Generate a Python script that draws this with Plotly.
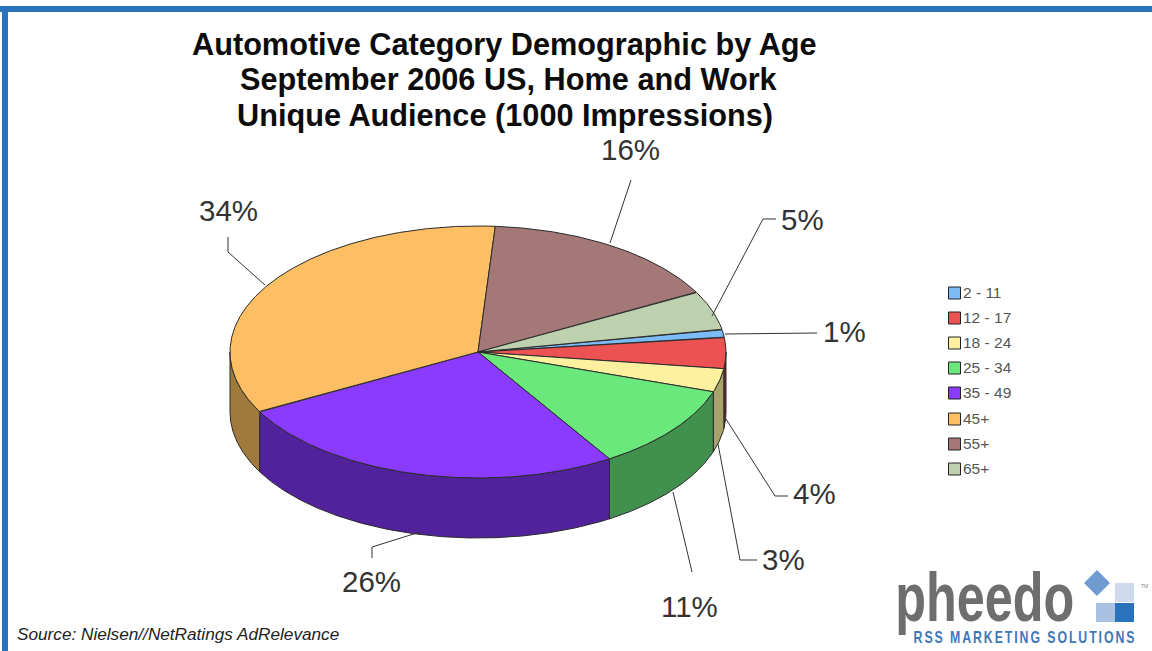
import math
import plotly.graph_objects as go

# ---- data ----
categories = ["2 - 11", "12 - 17", "18 - 24", "25 - 34", "35 - 49", "45+", "55+", "65+"]
percent = [1, 4, 3, 11, 26, 34, 16, 5]
top_colors = ["#7DBBF7", "#EC5252", "#FDF09F", "#6BE87C", "#8A3BFF", "#FDBE64", "#A57878", "#BDD1AF"]
side_colors = ["#3F6F95", "#7E1F28", "#A8A26C", "#42904E", "#52229C", "#A07A3C", "#634848", "#717D69"]
title_lines = ["Automotive Category Demographic by Age",
               "September 2006 US, Home and Work",
               "Unique Audience (1000 Impressions)"]
source_text = "Source: Nielsen//NetRatings AdRelevance"

# ---- layout of the pie (pixels of the 1152x651 canvas) ----
W, H = 1152, 651
CX, CY, RX, RY, DEPTH = 478, 352, 248, 126, 60
START_DEG = 10.4
OUTLINE = "#2b2b2b"


def pt(deg, drop=0):
    r = math.radians(deg)
    return CX + RX * math.cos(r), CY - RY * math.sin(r) + drop


def arc(a, b):
    """Angles from a down to b (clockwise), one point per quarter degree."""
    n = max(2, int(abs(a - b) * 4))
    return [a + (b - a) * i / n for i in range(n + 1)]


fig = go.Figure()

# slice spans from the percentages
spans = []
cur = START_DEG
for v in percent:
    spans.append((cur, cur - v * 3.6))
    cur -= v * 3.6

# side walls (only the front half of the rim is visible), back to front
order = sorted(range(len(percent)), key=lambda i: abs((spans[i][0] + spans[i][1]) / 2 + 90), reverse=True)
for i in order:
    a, b = spans[i]
    a2, b2 = min(a, 0), max(b, -180)
    if a2 <= b2:
        continue
    ts = arc(a2, b2)
    upper = [pt(t) for t in ts]
    lower = [pt(t, DEPTH) for t in reversed(ts)]
    poly = upper + lower + [upper[0]]
    fig.add_trace(go.Scatter(x=[p[0] for p in poly], y=[p[1] for p in poly], mode="lines",
                             fill="toself", fillcolor=side_colors[i],
                             line=dict(color=OUTLINE, width=1), name=categories[i] + " side",
                             showlegend=False, hoverinfo="skip"))

# top faces
for i, (a, b) in enumerate(spans):
    rim = [pt(t) for t in arc(a, b)]
    poly = [(CX, CY)] + rim + [(CX, CY)]
    fig.add_trace(go.Scatter(x=[p[0] for p in poly], y=[p[1] for p in poly], mode="lines",
                             fill="toself", fillcolor=top_colors[i],
                             line=dict(color=OUTLINE, width=1), name=categories[i],
                             showlegend=False, hoverinfo="name"))

shapes = []
annotations = []

# frame
FRAME = "#2A72BC"
shapes.append(dict(type="rect", xref="x", yref="y", x0=0, x1=W, y0=6, y1=12, fillcolor=FRAME, line_width=0))
shapes.append(dict(type="rect", xref="x", yref="y", x0=2, x1=8, y0=6, y1=H, fillcolor=FRAME, line_width=0))

# title
for line, x, y in zip(title_lines, [504, 509, 505], [44, 79, 115]):
    annotations.append(dict(x=x, y=y, xref="x", yref="y", text=f"<b>{line}</b>", showarrow=False,
                            xanchor="center", yanchor="middle",
                            font=dict(family="Liberation Sans", size=30.7, color="#0c0c0c")))

# leader lines and percent labels (same order as categories)
leaders = [
    [(725, 334), (817, 333)],
    [(726, 419), (775, 496), (788, 496)],
    [(718, 444), (740, 560), (757, 560)],
    [(673, 492), (692, 572)],
    [(420, 532), (372, 547), (372, 558)],
    [(265, 285), (228, 252), (228, 237)],
    [(610, 243), (631, 180)],
    [(712, 316), (763, 219), (776, 219)],
]
label_pos = [(844, 331), (814, 493), (783, 559), (689, 606), (371, 581), (228, 210), (630, 149), (802, 219)]
for i, v in enumerate(percent):
    xs, ys = zip(*leaders[i])
    fig.add_trace(go.Scatter(x=xs, y=ys, mode="lines", line=dict(color="#333333", width=1),
                             showlegend=False, hoverinfo="skip"))
    annotations.append(dict(x=label_pos[i][0], y=label_pos[i][1], xref="x", yref="y", text=f"{v}%",
                            showarrow=False, xanchor="center", yanchor="middle",
                            font=dict(family="Liberation Sans", size=29.5, color="#333333")))

# legend
legend_y = [293, 318, 343, 368, 393, 419, 444, 469]
for i, name in enumerate(categories):
    y = legend_y[i]
    shapes.append(dict(type="rect", xref="x", yref="y", x0=948.5, x1=960.5, y0=y - 6, y1=y + 6,
                       fillcolor=top_colors[i], line=dict(color="#222222", width=1)))
    annotations.append(dict(x=961, y=y - 1, xref="x", yref="y", text=name, showarrow=False,
                            xanchor="left", yanchor="middle",
                            font=dict(family="Liberation Sans", size=15.5, color="#555555")))

# source
annotations.append(dict(x=15, y=634, xref="x", yref="y", text=f"<i>{source_text}</i>", showarrow=False,
                        xanchor="left", yanchor="middle",
                        font=dict(family="Liberation Sans", size=17.2, color="#222222")))

# logo
annotations.append(dict(x=984, y=597, xref="x", yref="y", text="<b>pheedo</b>", showarrow=False,
                        xanchor="center", yanchor="middle",
                        font=dict(family="Liberation Sans", size=69, color="#6E6E6E")))
annotations.append(dict(x=1024.5, y=637, xref="x", yref="y", text="<b>RSS MARKETING SOLUTIONS</b>", showarrow=False,
                        xanchor="center", yanchor="middle",
                        font=dict(family="Liberation Sans", size=16, color="#3F78B8")))
annotations.append(dict(x=1144, y=586, xref="x", yref="y", text="TM", showarrow=False,
                        font=dict(family="Liberation Sans", size=5, color="#888888")))
shapes += [
    dict(type="path", xref="x", yref="y", path="M 1097 570 L 1110 583 L 1097 596 L 1084 583 Z",
         fillcolor="#6F9BD0", line_width=0),
    dict(type="rect", xref="x", yref="y", x0=1115, x1=1134, y0=583, y1=602, fillcolor="#CFDAEC", line_width=0),
    dict(type="rect", xref="x", yref="y", x0=1096, x1=1115, y0=603, y1=622, fillcolor="#A9C2E2", line_width=0),
    dict(type="rect", xref="x", yref="y", x0=1115, x1=1134, y0=603, y1=622, fillcolor="#2A72BC", line_width=0),
]

fig.update_layout(
    width=W, height=H, margin=dict(l=0, r=0, t=0, b=0),
    paper_bgcolor="white", plot_bgcolor="white", showlegend=False,
    xaxis=dict(range=[0, W], visible=False, fixedrange=True),
    yaxis=dict(range=[H, 0], visible=False, fixedrange=True),
    shapes=shapes, annotations=annotations,
)

# remove page margin; squeeze the two logo texts to their condensed widths
post = """
document.body.style.margin = '0';
function squeeze(label, width, spacing) {
  document.querySelectorAll('.annotation-text').forEach(function (t) {
    if (t.textContent !== label) return;
    t.style.letterSpacing = spacing + 'px';
    var b = t.getBBox();
    var c = b.x + b.width / 2;
    t.setAttribute('transform', 'translate(' + c + ',0) scale(' + (width / b.width) + ',1) translate(' + (-c) + ',0)');
  });
}
squeeze('pheedo', 179, 0);
squeeze('RSS MARKETING SOLUTIONS', 223, 2.5);
"""
fig.write_html("out.html", config=dict(displayModeBar=False), post_script=post)
